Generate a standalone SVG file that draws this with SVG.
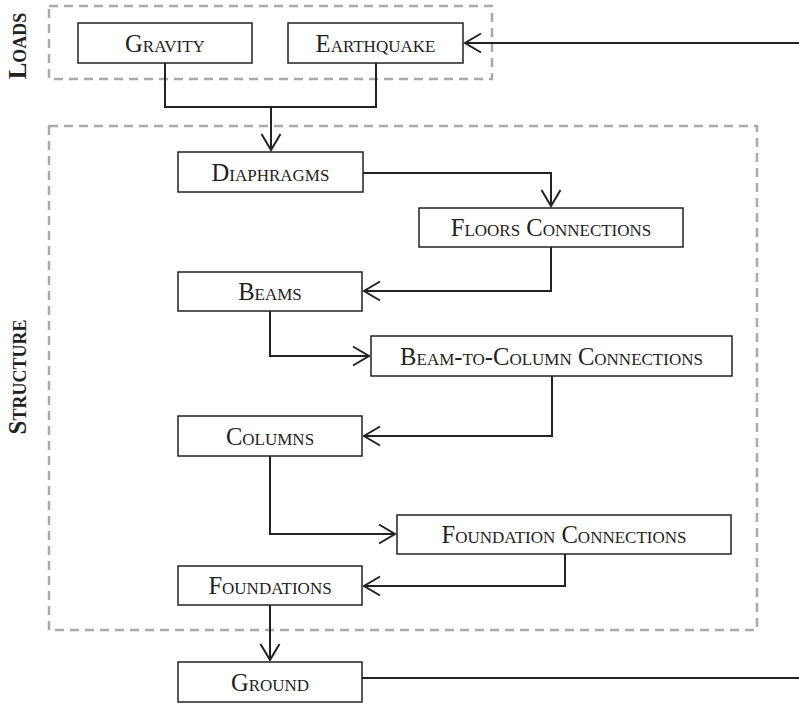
<svg xmlns="http://www.w3.org/2000/svg" width="799" height="704" viewBox="0 0 799 704">
<style>
.box{fill:#fff;stroke:#222;stroke-width:1.5}
.t{font-family:"Liberation Serif",serif;font-size:24.6px;font-variant:small-caps;fill:#222;text-anchor:middle;dominant-baseline:central}
.lbl{font-family:"Liberation Serif",serif;font-size:25px;font-weight:bold;font-variant:small-caps;fill:#222;text-anchor:middle}
.grp{fill:none;stroke:#aaa;stroke-width:2.5;stroke-dasharray:9 6}
.c{fill:none;stroke:#222;stroke-width:2}
</style>
<defs>
<marker id="a" markerUnits="userSpaceOnUse" markerWidth="24" markerHeight="24" viewBox="-18 -12 20 24" refX="0" refY="0" orient="auto">
<path d="M-16,-9.5 L0,0 L-16,9.5" fill="none" stroke="#222" stroke-width="2"/>
</marker>
</defs>
<rect width="799" height="704" fill="#fff"/>
<g id="groups">
<rect class="grp" x="49" y="6" width="443" height="73"/>
<rect class="grp" x="49" y="126" width="708" height="504"/>
<text class="lbl" transform="translate(26,46) rotate(-90)">Loads</text>
<text class="lbl" transform="translate(26,377) rotate(-90)">Structure</text>
</g>
<g id="connectors">
<polyline class="c" points="165,63 165,107 376,107 376,63"/>
<polyline class="c" points="271,107 271,150" marker-end="url(#a)"/>
<polyline class="c" points="799,43 465,43" marker-end="url(#a)"/>
<polyline class="c" points="363,173 551,173 551,206" marker-end="url(#a)"/>
<polyline class="c" points="551,247 551,291 364,291" marker-end="url(#a)"/>
<polyline class="c" points="270,311 270,356 369,356" marker-end="url(#a)"/>
<polyline class="c" points="552,376 552,436 364,436" marker-end="url(#a)"/>
<polyline class="c" points="270,456 270,534 395,534" marker-end="url(#a)"/>
<polyline class="c" points="565,554 565,586 364,586" marker-end="url(#a)"/>
<polyline class="c" points="270,605 270,660" marker-end="url(#a)"/>
<polyline class="c" points="362,678 799,678"/>
</g>
<g id="gravity"><rect class="box" x="78" y="23" width="174" height="40"/><text class="t" x="165" y="43">Gravity</text></g>
<g id="earthquake"><rect class="box" x="288" y="23" width="175" height="40"/><text class="t" x="375.5" y="43">Earthquake</text></g>
<g id="diaphragms"><rect class="box" x="178" y="152" width="185" height="40"/><text class="t" x="270.5" y="172">Diaphragms</text></g>
<g id="floors-connections"><rect class="box" x="419" y="208" width="264" height="39"/><text class="t" x="551" y="227.5">Floors Connections</text></g>
<g id="beams"><rect class="box" x="178" y="272" width="184" height="39"/><text class="t" x="270" y="291.5">Beams</text></g>
<g id="beam-to-column"><rect class="box" x="371" y="336" width="361" height="40"/><text class="t" x="551.5" y="356">Beam-to-Column Connections</text></g>
<g id="columns"><rect class="box" x="178" y="416" width="184" height="40"/><text class="t" x="270" y="436">Columns</text></g>
<g id="foundation-connections"><rect class="box" x="397" y="515" width="334" height="39"/><text class="t" x="564" y="534.5">Foundation Connections</text></g>
<g id="foundations"><rect class="box" x="178" y="566" width="184" height="39"/><text class="t" x="270" y="585.5">Foundations</text></g>
<g id="ground"><rect class="box" x="178" y="662" width="184" height="40"/><text class="t" x="270" y="682">Ground</text></g>
</svg>
